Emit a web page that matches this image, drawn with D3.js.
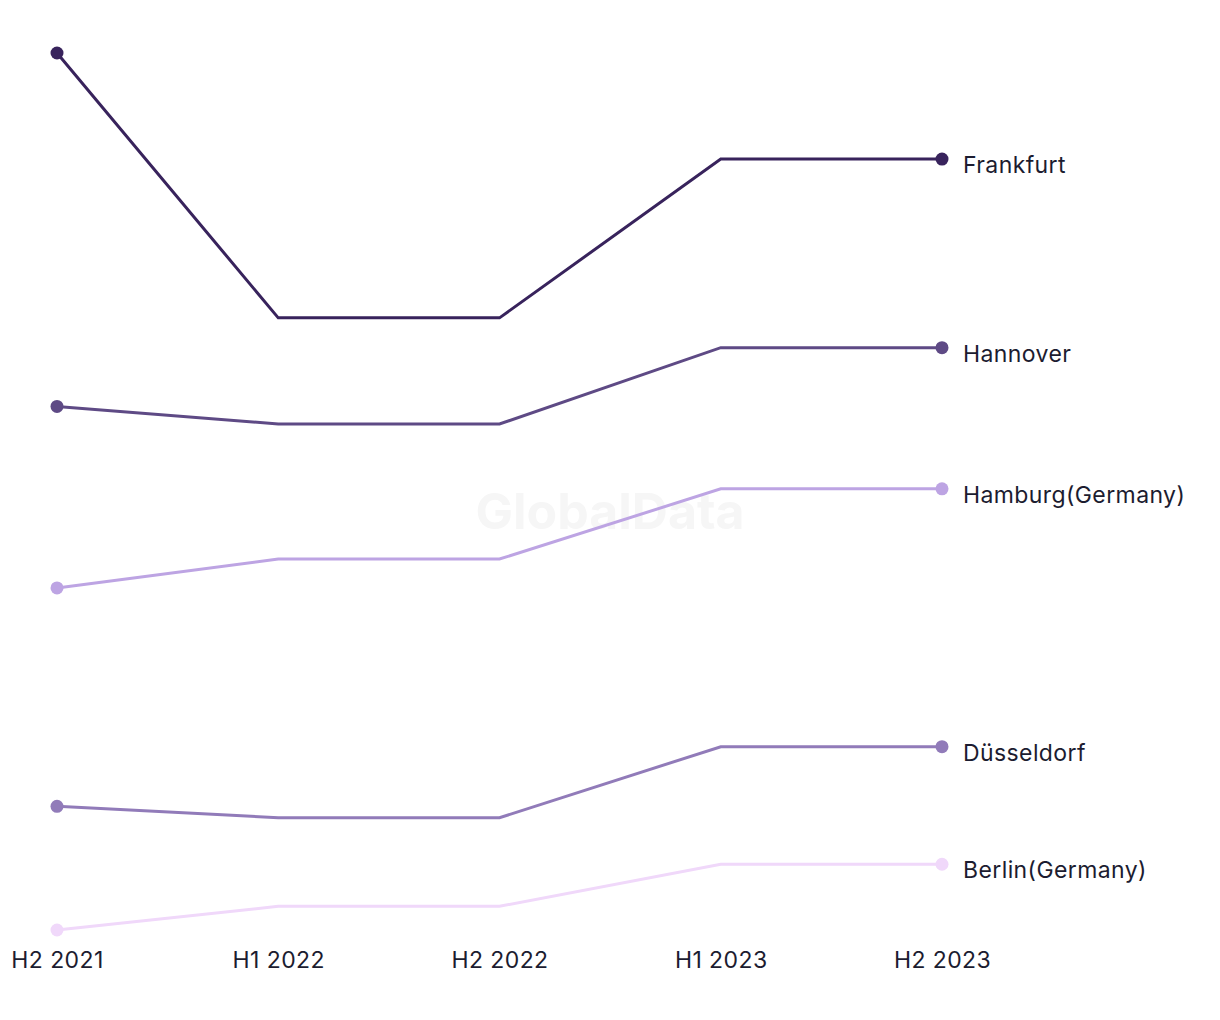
<!DOCTYPE html>
<html>
<head>
<meta charset="utf-8">
<script src="https://cdn.jsdelivr.net/npm/d3@7"></script>
<style>
  html, body { margin: 0; padding: 0; background: #ffffff; }
  svg { display: block; }
</style>
</head>
<body>
<svg id="chart" width="1220" height="1020"></svg>
<script>
const periods = ["H2 2021", "H1 2022", "H2 2022", "H1 2023", "H2 2023"];
const seriesNames = ["Frankfurt", "Hannover", "Hamburg(Germany)", "Düsseldorf", "Berlin(Germany)"];
const frankfurt  = [100.0, 69.8, 69.8, 87.9, 87.9];
const hannover   = [59.7, 57.7, 57.7, 66.4, 66.4];
const hamburg    = [39.0, 42.3, 42.3, 50.3, 50.3];
const duesseldorf = [14.1, 12.8, 12.8, 20.9, 20.9];
const berlin     = [0.0, 2.7, 2.7, 7.5, 7.5];
const seriesColors = ["#38235c", "#5e4a85", "#bda4e3", "#917bb9", "#f0d8fa"];

const allSeries = [frankfurt, hannover, hamburg, duesseldorf, berlin];

const svg = d3.select("#chart");
const font = "Inter, 'Noto Sans', sans-serif";
const textColor = "#1c1c30";

const x = d3.scalePoint().domain(periods).range([57, 942]);
const y = d3.scaleLinear().domain([0, 100]).range([930, 53]);

// watermark
svg.append("text")
  .attr("x", 610).attr("y", 529)
  .attr("text-anchor", "middle")
  .attr("font-family", "Inter, 'Liberation Sans', sans-serif")
  .attr("font-weight", 700)
  .attr("font-size", 50)
  .attr("fill", "#f6f6f6")
  .text("GlobalData");

const line = d3.line().x((d, i) => x(periods[i])).y(d => y(d));

allSeries.forEach((vals, si) => {
  const g = svg.append("g");
  g.append("path")
    .attr("d", line(vals))
    .attr("fill", "none")
    .attr("stroke", seriesColors[si])
    .attr("stroke-width", 3)
    .attr("stroke-linejoin", "miter");
  [0, vals.length - 1].forEach(i => {
    g.append("circle")
      .attr("cx", x(periods[i]))
      .attr("cy", y(vals[i]))
      .attr("r", 6.5)
      .attr("fill", seriesColors[si]);
  });
  g.append("text")
    .attr("x", x(periods[periods.length - 1]) + 21)
    .attr("y", y(vals[vals.length - 1]) + 14)
    .attr("font-family", font)
    .attr("font-size", 23)
    .attr("letter-spacing", 0.4)
    .attr("fill", textColor)
    .text(seriesNames[si]);
});

// x axis (no line, just labels)
const xAxis = d3.axisBottom(x).tickSize(0).tickPadding(0);
const ax = svg.append("g").attr("transform", "translate(0,952)").call(xAxis);
ax.select(".domain").remove();
ax.selectAll("text")
  .attr("dy", "0.71em")
  .attr("font-family", font)
  .attr("font-size", 23)
  .attr("letter-spacing", 0.4)
  .attr("fill", textColor);
</script>
</body>
</html>
